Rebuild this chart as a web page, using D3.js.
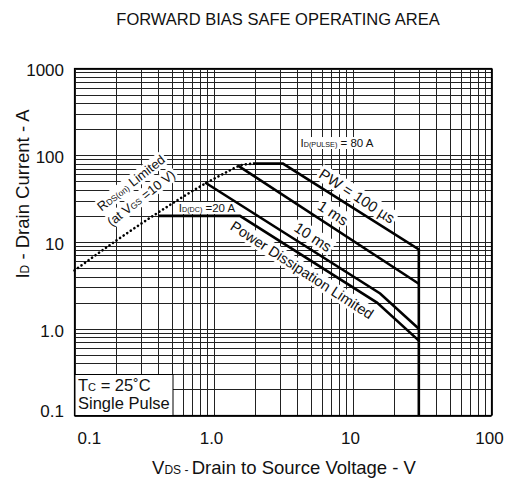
<!DOCTYPE html>
<html>
<head>
<meta charset="utf-8">
<script src="https://cdn.jsdelivr.net/npm/d3@7"></script>
<style>
  body { margin: 0; background: #fff; }
  text { font-family: "Liberation Sans", Arial, sans-serif; fill: #111; }
</style>
</head>
<body>
<svg id="soa" width="505" height="483"></svg>
<script>
// values (V, A)
var xTicks = [0.1, 1, 10, 100];
var xTickLabels = ["0.1", "1.0", "10", "100"];
var yTicks = [0.1, 1, 10, 100, 1000];
var yTickLabels = ["0.1", "1.0", "10", "100", "1000"];

var rdsV = [0.1, 0.2, 0.39, 0.9, 1.2, 1.55, 1.92];
var rdsI = [4.7, 10.4, 21.3, 48.5, 62, 76, 80];
var pw100V = [1.92, 3.16, 30, 30];
var pw100I = [80, 80, 8.2, 0.1];
var pw1msV = [1.5, 30];
var pw1msI = [76, 3.3];
var pw10msV = [0.87, 15.8, 30];
var pw10msI = [48.5, 2.55, 1.0];
var dcV = [0.4, 1.55, 15, 30];
var dcI = [20, 20, 2.0, 0.73];

var svg = d3.select("#soa");
var pLeft = 74.5, pRight = 491.5, pTop = 68.5, pBottom = 415.5;

var x = d3.scaleLog().domain([0.1, 100]).range([pLeft, pRight]);
var y = d3.scaleLog().domain([0.1, 1000]).range([pBottom, pTop]);

// grid
var gx = [], gy = [];
for (var d = -1; d < 2; d++) for (var k = 1; k <= 9; k++) gx.push(k * Math.pow(10, d));
gx.push(100);
for (var d = -1; d < 3; d++) for (var k = 1; k <= 9; k++) gy.push(k * Math.pow(10, d));
gy.push(1000);

var grid = svg.append("g").attr("stroke", "#222").attr("stroke-width", 1);
grid.selectAll("line.v").data(gx).enter().append("line")
    .attr("x1", function(v) { return Math.round(x(v)) + 0.5; })
    .attr("x2", function(v) { return Math.round(x(v)) + 0.5; })
    .attr("y1", pTop).attr("y2", pBottom);
grid.selectAll("line.h").data(gy).enter().append("line")
    .attr("y1", function(v) { return Math.round(y(v)) + 0.5; })
    .attr("y2", function(v) { return Math.round(y(v)) + 0.5; })
    .attr("x1", pLeft).attr("x2", pRight);

svg.append("rect").attr("x", pLeft).attr("y", pTop)
    .attr("width", pRight - pLeft).attr("height", pBottom - pTop)
    .attr("fill", "none").attr("stroke", "#000").attr("stroke-width", 1.2);

// tick labels
svg.selectAll("text.xt").data(xTicks).enter().append("text")
    .attr("x", function(v, i) { return i == 0 ? x(v) + 3 : x(v) - 2; })
    .attr("y", 444)
    .attr("text-anchor", function(v, i) { return i == 0 ? "start" : "middle"; })
    .attr("font-size", 17)
    .text(function(v, i) { return xTickLabels[i]; });

svg.selectAll("text.yt").data(yTicks).enter().append("text")
    .attr("x", 64)
    .attr("y", function(v, i) { return i == 0 ? y(v) - 4 : y(v) + 2; })
    .attr("dy", "0.35em")
    .attr("text-anchor", "end")
    .attr("font-size", 17)
    .text(function(v, i) { return yTickLabels[i]; });

// title and axis titles
svg.append("text").attr("x", 278).attr("y", 25).attr("text-anchor", "middle")
    .attr("font-size", 16.5).text("FORWARD BIAS SAFE OPERATING AREA");

var xt = svg.append("text").attr("x", 284).attr("y", 474).attr("text-anchor", "middle").attr("font-size", 18.5);
xt.append("tspan").text("V");
xt.append("tspan").attr("font-size", 12).text("DS");
xt.append("tspan").attr("font-size", 12).text(" - ");
xt.append("tspan").text("Drain to Source Voltage - V");

var yt = svg.append("text").attr("transform", "translate(29,194)rotate(-90)")
    .attr("text-anchor", "middle").attr("font-size", 18.5);
yt.append("tspan").text("I");
yt.append("tspan").attr("font-size", 12).text("D");
yt.append("tspan").text(" - Drain Current - A");

// labels with white boxes (drawn under the curves)
function label(cx, cy, angle, size, parts, pad) {
    var g = svg.append("g").attr("transform", "translate(" + cx + "," + cy + ")rotate(" + angle + ")");
    var bg = g.append("rect").attr("fill", "#fff");
    var t = g.append("text").attr("text-anchor", "middle").attr("dy", "0.35em").attr("font-size", size);
    parts.forEach(function(p) {
        var ts = t.append("tspan").text(p[0]);
        if (p[1]) ts.attr("font-size", p[1]);
    });
    var b = t.node().getBBox();
    bg.attr("x", b.x - pad).attr("y", b.y).attr("width", b.width + 2 * pad).attr("height", b.height);
}

label(337, 143, 0, 11.5, [["I"], ["D(PULSE)", 7.2], [" = 80 A"]], 2);
label(207, 208, 0, 11.5, [["I"], ["D(DC)", 7.2], [" =20 A"]], 1);
label(131, 183, -38, 13, [["R"], ["DS(on)", 8.5], [" Limited"]], 2);
label(141, 198, -38, 13, [["(at V"], ["GS", 8.5], [" =10 V)"]], 2);
label(357, 196, 33, 15, [["PW = 100 \u00b5s"]], 2);
label(333, 213, 33, 15, [["1 ms"]], 2);
label(313, 237, 33, 15, [["10 ms"]], 2);
label(302, 270, 33, 14.5, [["Power Dissipation Limited"]], 2);

// curves
var line = d3.line().x(function(p) { return x(p[0]); }).y(function(p) { return y(p[1]); });
var curve = d3.line().x(function(p) { return x(p[0]); }).y(function(p) { return y(p[1]); })
    .curve(d3.curveMonotoneX);

function pts(vs, is) { return vs.map(function(v, i) { return [v, is[i]]; }); }

svg.append("path").attr("d", curve(pts(rdsV, rdsI)))
    .attr("fill", "none").attr("stroke", "#000").attr("stroke-width", 2.6)
    .attr("stroke-linecap", "round").attr("stroke-dasharray", "0.1,4.2");

[[pw100V, pw100I], [pw1msV, pw1msI], [pw10msV, pw10msI], [dcV, dcI]].forEach(function(s) {
    svg.append("path").attr("d", line(pts(s[0], s[1])))
        .attr("fill", "none").attr("stroke", "#000").attr("stroke-width", 2.6)
        .attr("stroke-linejoin", "miter");
});

// legend box
svg.append("rect").attr("x", pLeft + 0.5).attr("y", 374.5).attr("width", 98).attr("height", pBottom - 374.5)
    .attr("fill", "#fff").attr("stroke", "#000").attr("stroke-width", 1);
var l1 = svg.append("text").attr("x", 78).attr("y", 391).attr("font-size", 16.5);
l1.append("tspan").text("T");
l1.append("tspan").attr("font-size", 11).text("C");
l1.append("tspan").text(" = 25\u02daC");
svg.append("text").attr("x", 78).attr("y", 409).attr("font-size", 16.5).text("Single Pulse");
</script>
</body>
</html>
